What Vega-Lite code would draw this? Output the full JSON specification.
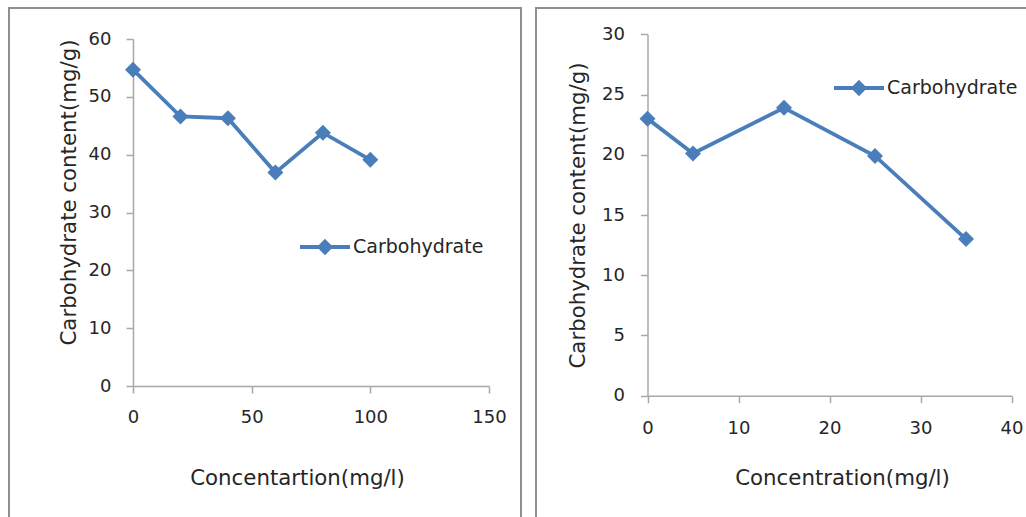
{
  "$schema": "https://vega.github.io/schema/vega-lite/v6.json",
  "padding": {"left": 8, "top": 7, "right": 0, "bottom": 0},
  "spacing": 13,
  "background": "white",
  "datasets": {
    "left": [
      {"conc": 0, "carb": 54.7, "series": "Carbohydrate"},
      {"conc": 20, "carb": 46.6, "series": "Carbohydrate"},
      {"conc": 40, "carb": 46.3, "series": "Carbohydrate"},
      {"conc": 60, "carb": 36.9, "series": "Carbohydrate"},
      {"conc": 80, "carb": 43.8, "series": "Carbohydrate"},
      {"conc": 100, "carb": 39.1, "series": "Carbohydrate"}
    ],
    "right": [
      {"conc": 0, "carb": 23.0, "series": "Carbohydrate"},
      {"conc": 5, "carb": 20.1, "series": "Carbohydrate"},
      {"conc": 15, "carb": 23.9, "series": "Carbohydrate"},
      {"conc": 25, "carb": 19.9, "series": "Carbohydrate"},
      {"conc": 35, "carb": 13.0, "series": "Carbohydrate"}
    ]
  },
  "config": {
    "view": {"stroke": "#8f8f8f", "strokeWidth": 2},
    "axis": {
      "grid": false,
      "domainColor": "#a8a8a8",
      "tickColor": "#a8a8a8",
      "domainWidth": 1.5,
      "tickWidth": 1.5,
      "tickSize": 7,
      "labelFont": "DejaVu Sans",
      "labelFontSize": 18,
      "labelColor": "#262626",
      "titleFont": "DejaVu Sans",
      "titleFontSize": 21.3,
      "titleFontWeight": "normal",
      "titleColor": "#262626"
    },
    "legend": {
      "orient": "none",
      "title": null,
      "symbolType": "M-1,0L1,0M0,-0.22L0.22,0L0,0.22L-0.22,0Z",
      "symbolSize": 2500,
      "symbolStrokeWidth": 3.8,
      "symbolFillColor": "#4A7EBB",
      "symbolStrokeColor": "#4A7EBB",
      "labelFont": "DejaVu Sans",
      "labelFontSize": 19,
      "labelColor": "#262626",
      "labelOffset": 1,
      "padding": 0
    }
  },
  "resolve": {"scale": {"color": "independent", "x": "independent", "y": "independent"}, "legend": {"color": "independent"}},
  "hconcat": [
    {
      "width": 512,
      "height": 515,
      "data": {"name": "left"},
      "encoding": {
        "x": {
          "field": "conc", "type": "quantitative",
          "scale": {"domain": [0, 150], "range": [124, 480], "nice": false, "zero": false},
          "axis": {"title": "Concentartion(mg/l)", "values": [0, 50, 100, 150], "offset": -137, "labelPadding": 15, "titlePadding": 41, "titleX": 288, "labelFlush": false}
        },
        "y": {
          "field": "carb", "type": "quantitative",
          "scale": {"domain": [0, 60], "range": [378, 31], "nice": false},
          "axis": {"title": "Carbohydrate content(mg/g)", "values": [0, 10, 20, 30, 40, 50, 60], "offset": -124, "labelPadding": 15, "titlePadding": 9, "titleY": 184}
        }
      },
      "layer": [
        {
          "mark": {"type": "line", "strokeWidth": 3.8},
          "encoding": {
            "color": {"field": "series", "type": "nominal", "scale": {"range": ["#4A7EBB"]},
              "legend": {"legendX": 289, "legendY": 212}}
          }
        },
        {
          "mark": {"type": "point", "shape": "diamond", "filled": true, "size": 256, "opacity": 1, "color": "#4A7EBB"}
        }
      ]
    },
    {
      "width": 500,
      "height": 515,
      "data": {"name": "right"},
      "encoding": {
        "x": {
          "field": "conc", "type": "quantitative",
          "scale": {"domain": [0, 40], "range": [111.5, 475.5], "nice": false, "zero": false},
          "axis": {"title": "Concentration(mg/l)", "values": [0, 10, 20, 30, 40], "offset": -127.3, "labelPadding": 17, "titlePadding": 30, "titleX": 306, "labelFlush": false}
        },
        "y": {
          "field": "carb", "type": "quantitative",
          "scale": {"domain": [0, 30], "range": [387.7, 26.3], "nice": false},
          "axis": {"title": "Carbohydrate content(mg/g)", "values": [0, 5, 10, 15, 20, 25, 30], "offset": -111.5, "labelPadding": 16, "titlePadding": 13}
        }
      },
      "layer": [
        {
          "mark": {"type": "line", "strokeWidth": 3.8},
          "encoding": {
            "color": {"field": "series", "type": "nominal", "scale": {"range": ["#4A7EBB"]},
              "legend": {"legendX": 296, "legendY": 53}}
          }
        },
        {
          "mark": {"type": "point", "shape": "diamond", "filled": true, "size": 256, "opacity": 1, "color": "#4A7EBB"}
        }
      ]
    }
  ]
}
